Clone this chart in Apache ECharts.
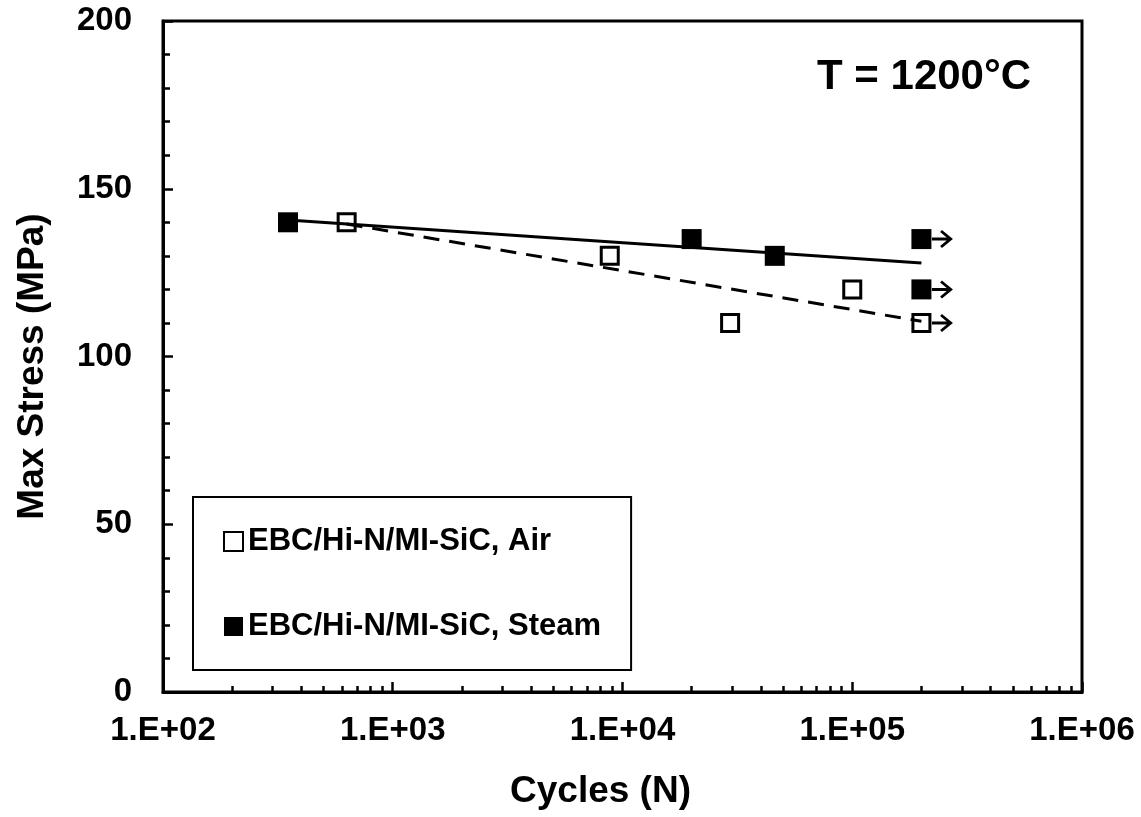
<!DOCTYPE html>
<html>
<head>
<meta charset="utf-8">
<script src="https://cdn.jsdelivr.net/npm/echarts@6/dist/echarts.min.js"></script>
<style>
html,body{margin:0;padding:0;background:#fff;}
#chart{width:1141px;height:817px;}
</style>
</head>
<body>
<div id="chart"></div>
<script>
// ---- data ----
const airName = 'EBC/Hi-N/MI-SiC, Air';
const steamName = 'EBC/Hi-N/MI-SiC, Steam';
const airPoints = [[630, 140], [8800, 130], [29400, 110], [100000, 120], [200000, 110]];
const steamPoints = [[350, 140], [20000, 135], [46000, 130], [200000, 135], [200000, 120]];
const runoutPoints = [[200000, 135], [200000, 120], [200000, 110]];
const airTrend = [[630, 139.5], [200000, 110.5]];
const steamTrend = [[350, 140.7], [200000, 127.9]];
const xMajorTicks = [100, 1000, 10000, 100000, 1000000];
const xTickLabels = ['1.E+02', '1.E+03', '1.E+04', '1.E+05', '1.E+06'];
const xMinorMultipliers = [2, 3, 4, 5, 6, 7, 8, 9];
const yTicks = [0, 50, 100, 150, 200];
const annotation = 'T = 1200°C';

const FONT = '"Liberation Sans", Arial, sans-serif';
const xMinorTicks = [];
for (let i = 0; i < xMajorTicks.length - 1; i++) {
  xMinorMultipliers.forEach(m => xMinorTicks.push(xMajorTicks[i] * m));
}

const chart = echarts.init(document.getElementById('chart'));
const arrowPath = 'path://M0,7.5L17,7.5L17,10.5L0,10.5Z M10,0L21,9L10,18L8.2,16L16.6,9L8.2,2Z';

chart.setOption({
  animation: false,
  backgroundColor: '#fff',
  grid: { left: 163, right: 59, top: 21, bottom: 125, show: true, borderColor: '#000', borderWidth: 3, backgroundColor: 'transparent' },
  xAxis: [{
    type: 'log', logBase: 10, min: 100, max: 1000000,
    name: 'Cycles (N)', nameLocation: 'middle', nameGap: 81,
    nameTextStyle: { fontFamily: FONT, fontWeight: 'bold', fontSize: 37, color: '#000', padding: [0, 44, 0, 0] },
    axisLine: { show: true, lineStyle: { color: '#000', width: 3 } },
    axisTick: { show: true, inside: true, length: 10, lineStyle: { color: '#000', width: 2.5 }, customValues: xMajorTicks },
    minorTick: { show: false },
    splitLine: { show: false },
    axisLabel: {
      margin: 22, color: '#000', fontFamily: FONT, fontWeight: 'bold', fontSize: 33,
      customValues: xMajorTicks,
      formatter: v => { const i = xMajorTicks.findIndex(t => Math.abs(Math.log10(t) - Math.log10(v)) < 1e-6); return i >= 0 ? xTickLabels[i] : ''; }
    }
  }, {
    type: 'log', logBase: 10, min: 100, max: 1000000, position: 'bottom',
    axisLine: { show: false },
    axisTick: { show: true, inside: true, length: 6, lineStyle: { color: '#000', width: 2.5 }, customValues: xMinorTicks },
    axisLabel: { show: false },
    splitLine: { show: false }
  }],
  yAxis: {
    type: 'value', min: 0, max: 200, interval: 50,
    name: 'Max Stress (MPa)', nameLocation: 'middle', nameGap: 112, nameRotate: 90,
    nameTextStyle: { fontFamily: FONT, fontWeight: 'bold', fontSize: 37, color: '#000', padding: [0, 20, 0, 0] },
    axisLine: { show: true, lineStyle: { color: '#000', width: 3 } },
    axisTick: { show: true, inside: true, length: 10, lineStyle: { color: '#000', width: 2.5 } },
    minorTick: { show: true, splitNumber: 5, length: 7, lineStyle: { color: '#000', width: 2.5 } },
    splitLine: { show: false },
    axisLabel: { margin: 31, color: '#000', fontFamily: FONT, fontWeight: 'bold', fontSize: 33,
      formatter: v => yTicks.includes(v) ? String(v) : '' }
  },
  legend: {
    data: [airName, steamName],
    orient: 'vertical', left: 193, top: 497,
    padding: [29, 30, 28, 30], itemGap: 54,
    itemWidth: 19, itemHeight: 19,
    backgroundColor: '#fff', borderColor: '#000', borderWidth: 2, borderRadius: 0,
    textStyle: { fontFamily: FONT, fontWeight: 'bold', fontSize: 31, color: '#000' },
    selectedMode: false
  },
  graphic: [{
    type: 'text', left: 817, top: 56,
    style: { text: annotation, fontFamily: FONT, fontWeight: 'bold', fontSize: 42, fill: '#000' }
  }],
  series: [{
    name: 'airTrend', type: 'line', data: airTrend, showSymbol: false, symbol: 'none',
    lineStyle: { color: '#000', width: 3, type: [16, 10] }, z: 3, silent: true
  }, {
    name: 'steamTrend', type: 'line', data: steamTrend, showSymbol: false, symbol: 'none',
    lineStyle: { color: '#000', width: 3 }, z: 3, silent: true
  }, {
    name: airName, type: 'scatter', data: airPoints, symbol: 'rect', symbolSize: 17,
    itemStyle: { color: '#fff', borderColor: '#000', borderWidth: 3, opacity: 1 }, z: 2
  }, {
    name: steamName, type: 'scatter', data: steamPoints, symbol: 'rect', symbolSize: 20,
    itemStyle: { color: '#000', borderColor: '#000', borderWidth: 0, opacity: 1 }, z: 4
  }, {
    name: 'runout', type: 'scatter', data: runoutPoints, symbol: arrowPath, symbolSize: [21, 18],
    symbolOffset: [21, 0], itemStyle: { color: '#000', opacity: 1 }, z: 4, silent: true
  }]
});
</script>
</body>
</html>
